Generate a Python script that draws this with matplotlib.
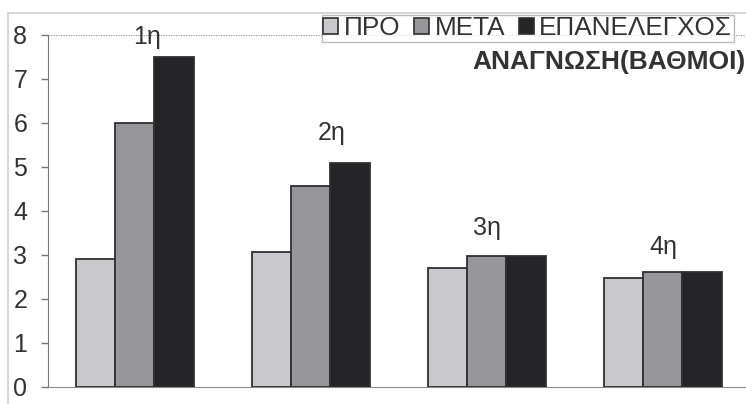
import matplotlib
matplotlib.use("Agg")
import matplotlib.pyplot as plt
from matplotlib.patches import Rectangle, Patch
import numpy as np

plt.rcParams['font.family'] = ['Liberation Sans', 'DejaVu Sans']

groups = ["1η", "2η", "3η", "4η"]
series = ["ΠΡΟ", "ΜΕΤΑ", "ΕΠΑΝΕΛΕΓΧΟΣ"]
pro = [2.9, 3.07, 2.7, 2.47]
meta = [6.0, 4.57, 2.97, 2.62]
epan = [7.5, 5.08, 2.97, 2.62]
title = "ΑΝΑΓΝΩΣΗ(ΒΑΘΜΟΙ)"

colors = ["#c9c9cd", "#96969a", "#252527"]
W, H = 746, 404

fig = plt.figure(figsize=(W / 100, H / 100), dpi=100)
fig.patch.set_facecolor("white")

# light frame round the chart area
fig.add_artist(Rectangle((8 / W, -0.1), 1.2, (H - 13) / H + 0.1,
                         transform=fig.transFigure, fill=False,
                         edgecolor="#cfcfcf", lw=1.2))

ax = fig.add_axes([48 / W, 17 / H, (W - 48) / W, 352 / H])
x = np.arange(len(groups))
bw = 0.222
for i, (vals, c) in enumerate(zip([pro, meta, epan], colors)):
    ax.bar(x + (i - 1) * bw, vals, bw, color=c, edgecolor="#303030",
           linewidth=1.3, zorder=3)

ax.set_xlim(-0.494, 3.472)
ax.set_ylim(0, 8)
ax.set_yticks(range(0, 9))
ax.set_xticks([])
ax.tick_params(axis="y", length=5, width=1, color="#777777", pad=10,
               labelsize=18, labelcolor="#333333")
for s in ["top", "right"]:
    ax.spines[s].set_visible(False)
ax.spines["left"].set_color("#777777")
ax.spines["bottom"].set_linestyle((0, (1, 1)))
ax.spines["bottom"].set_color("#888888")
ax.axhline(8, color="#999999", lw=0.9, ls=(0, (1, 1)), zorder=1)

# group names above the bars
label_dx = [0.07, 0.12, 0.0, 0.0]
label_y = [7.95, 5.77, 3.61, 3.18]
for xi, name, dx, ly in zip(x, groups, label_dx, label_y):
    ax.text(xi + dx, ly, name, ha="center", va="center", fontsize=18,
            color="#333333", zorder=4)

handles = [Patch(facecolor=c, edgecolor="#303030", lw=1.2) for c in colors]
leg = fig.legend(handles, series, loc="upper left",
                 bbox_to_anchor=(322 / W, (H - 15) / H), ncol=3,
                 fontsize=18.8, frameon=True, fancybox=False,
                 handlelength=0.55, handleheight=0.55, handletextpad=0.22,
                 columnspacing=0.55, borderpad=0.05, borderaxespad=0,
                 labelcolor="#333333")
leg.get_frame().set_edgecolor("#aaaaaa")
leg.get_frame().set_linewidth(1.0)

fig.text(0.999, (H - 62) / H, title, ha="right", va="center",
         fontsize=19, fontweight="bold", color="#333333")

fig.savefig("out.png", dpi=100)
